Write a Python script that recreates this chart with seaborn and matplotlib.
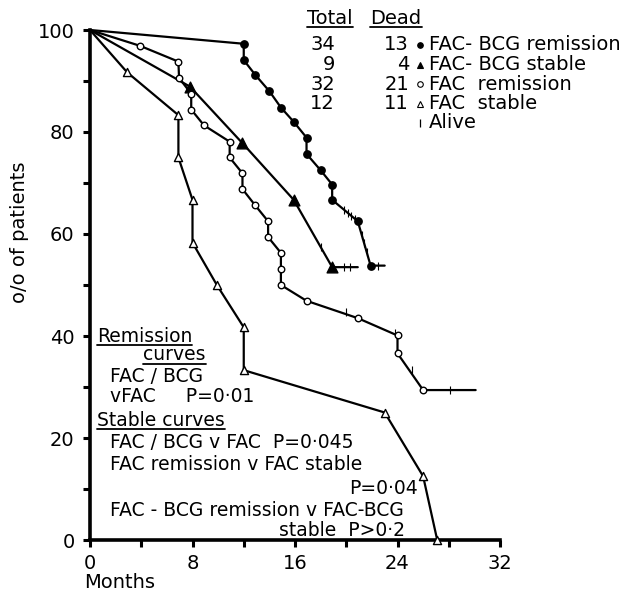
import pandas as pd
import seaborn as sns
import matplotlib.pyplot as plt
from matplotlib.lines import Line2D

sns.set_style("ticks", {"text.color": "black", "xtick.color": "black",
                        "ytick.color": "black", "axes.edgecolor": "black",
                        "axes.labelcolor": "black"})
plt.rcParams['font.family'] = ['DejaVu Sans']

# survival curves: months, % of patients, death marker flag
bcg_rem_months = [0, 12.0, 12.0, 12.9, 14.0, 14.9, 15.9, 16.9, 16.9, 18.0, 18.9, 18.9, 20.9, 21.9, 23.0]
bcg_rem_pct = [100, 97.3, 94.1, 91.2, 88.0, 84.8, 82.0, 78.9, 75.7, 72.5, 69.7, 66.7, 62.5, 53.8, 53.8]
bcg_rem_dead = [0, 1, 1, 1, 1, 1, 1, 1, 1, 1, 1, 1, 1, 1, 0]

bcg_stab_months = [0, 7.8, 11.9, 15.9, 18.9, 20.9]
bcg_stab_pct = [100, 88.9, 77.8, 66.7, 53.5, 53.5]
bcg_stab_dead = [0, 1, 1, 1, 1, 0]

fac_rem_months = [0, 3.9, 6.9, 6.95, 7.9, 7.9, 8.9, 10.9, 10.9, 11.9, 11.9, 12.9, 13.9, 13.9,
                  14.9, 14.9, 14.9, 16.9, 20.9, 24.0, 24.0, 26.0, 30.1]
fac_rem_pct = [100, 96.9, 93.8, 90.6, 87.5, 84.4, 81.3, 78.1, 75.0, 71.9, 68.8, 65.6, 62.5, 59.4,
               56.3, 53.1, 50.0, 46.9, 43.5, 40.1, 36.6, 29.4, 29.4]
fac_rem_dead = [0] + [1] * 21 + [0]

fac_stab_months = [0, 2.9, 6.9, 6.9, 8.0, 8.0, 9.9, 12.0, 12.0, 23.0, 26.0, 27.1]
fac_stab_pct = [100, 91.7, 83.3, 75.0, 66.7, 58.3, 50.0, 41.7, 33.3, 25.0, 12.5, 0]
fac_stab_dead = [0] + [1] * 11

# alive (censored) ticks
alive_months = [18.0, 19.8, 20.1, 20.4, 20.7, 21.2, 21.4, 21.6, 22.5, 19.8, 20.3, 20.0, 23.8, 25.1, 28.1]
alive_pct = [57.5, 64.8, 64.2, 63.6, 63.0, 59.9, 58.2, 56.4, 53.8, 53.5, 53.5, 44.8, 40.5, 33.3, 29.4]

totals = ["34", "9", "32", "12"]
deaths = ["13", "4", "21", "11"]
groups = ["FAC- BCG remission", "FAC- BCG stable", "FAC  remission", "FAC  stable"]

curves = [
    (bcg_rem_months, bcg_rem_pct, bcg_rem_dead, "o", "black", 28),
    (bcg_stab_months, bcg_stab_pct, bcg_stab_dead, "^", "black", 60),
    (fac_rem_months, fac_rem_pct, fac_rem_dead, "o", "white", 22),
    (fac_stab_months, fac_stab_pct, fac_stab_dead, "^", "white", 34),
]

W, H = 637, 594
fig = plt.figure(figsize=(W / 100, H / 100), dpi=100)
ax = fig.add_axes([90 / W, 54 / H, 410 / W, 510 / H])

for months, pct, dead, mk, fc, size in curves:
    df = pd.DataFrame({"month": months, "pct": pct, "dead": dead})
    sns.lineplot(data=df, x="month", y="pct", sort=False, estimator=None,
                 color="black", linewidth=1.6, ax=ax, clip_on=False)
    sns.scatterplot(data=df[df["dead"] == 1], x="month", y="pct", marker=mk,
                    s=size, color=fc, edgecolor="black", linewidth=1.0,
                    ax=ax, clip_on=False, zorder=5)

alive_df = pd.DataFrame({"month": alive_months, "pct": alive_pct})
sns.scatterplot(data=alive_df, x="month", y="pct", marker="|", s=30,
                color="black", linewidth=0.8, ax=ax, clip_on=False, zorder=4)

ax.set_xlim(0, 32)
ax.set_ylim(0, 100)
ax.set_xticks(range(0, 33, 4))
ax.set_xticklabels([str(v) if v % 8 == 0 else "" for v in range(0, 33, 4)])
ax.set_yticks(range(0, 101, 10))
ax.set_yticklabels([str(v) if v % 20 == 0 else "" for v in range(0, 101, 10)])
ax.tick_params(axis="both", length=5, width=2.2, labelsize=14, direction="out")
ax.tick_params(axis="x", pad=5)
ax.tick_params(axis="y", pad=6)
sns.despine(ax=ax)
for side in ["left", "bottom"]:
    ax.spines[side].set_linewidth(2.6)
ax.set_xlabel("")
ax.set_ylabel("")

fig.text(20 / W, 1 - 232 / H, "o/o of patients", rotation=90, fontsize=14,
         ha="center", va="center")
fig.text(84 / W, 1 - 582 / H, "Months", fontsize=14, ha="left", va="center")

underlined = []


def put(x, y, s, ha="left", ul=False, fs=13.5):
    t = fig.text(x / W, 1 - y / H, s, fontsize=fs, ha=ha, va="center")
    if ul:
        underlined.append(t)
    return t


# legend table
put(330, 18, "Total", ha="center", ul=True, fs=14)
put(396, 18, "Dead", ha="center", ul=True, fs=14)
legend_marks = [("o", "black", 4), ("^", "black", 5), ("o", "white", 4), ("^", "white", 5)]
for i in range(4):
    y = 45 + i * 19.5
    put(335, y, totals[i], ha="right", fs=14)
    put(409, y, deaths[i], ha="right", fs=14)
    mk, fc, ms = legend_marks[i]
    fig.add_artist(Line2D([420 / W], [1 - y / H], marker=mk, markersize=ms,
                          markerfacecolor=fc, markeredgecolor="black",
                          markeredgewidth=0.8, linestyle="none"))
    put(429, y, groups[i], fs=14)
y_alive = 45 + 4 * 19.5
fig.add_artist(Line2D([420 / W], [1 - y_alive / H], marker="|", markersize=6,
                      color="black", markeredgewidth=0.9, linestyle="none"))
put(429, y_alive, "Alive", fs=14)

# significance notes
put(97, 336, "Remission", ul=True)
put(143, 355, "curves", ul=True)
put(110, 376, "FAC / BCG")
put(110, 396, "vFAC     P=0·01")
put(97, 420, "Stable curves", ul=True)
put(110, 443, "FAC / BCG v FAC  P=0·045")
put(110, 465, "FAC remission v FAC stable")
put(418, 488, "P=0·04", ha="right")
put(110, 510, "FAC - BCG remission v FAC-BCG")
put(405, 531, "stable  P>0·2", ha="right")

fig.canvas.draw()
renderer = fig.canvas.get_renderer()
for t in underlined:
    bb = t.get_window_extent(renderer)
    yl = bb.y0 + 1
    fig.add_artist(Line2D([bb.x0 / W, bb.x1 / W], [yl / H, yl / H],
                          color="black", linewidth=1.3))

fig.savefig("out.png", dpi=100)
